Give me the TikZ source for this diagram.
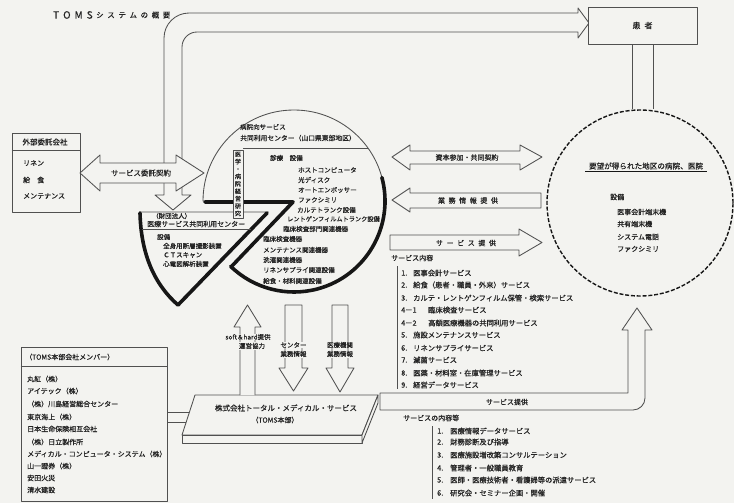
\documentclass[tikz,border=0pt]{standalone}
\usepackage{fontspec}
\newfontfamily\jp{Noto Sans CJK JP}[FakeBold=0.6]
\definecolor{bg}{RGB}{243,243,240}
\definecolor{lc}{RGB}{80,80,80}
\definecolor{tc}{RGB}{35,35,35}
\definecolor{bk}{RGB}{22,22,22}
\newcommand\jgap{\hspace{3.6pt}}
\begin{document}
\begin{tikzpicture}[x=1pt,y=-1pt,line join=round,
  ln/.style={draw=lc,line width=0.85pt},
  thk/.style={draw=bk,line width=3.6pt,line cap=round},
  tw/.style={font=\jp\fontsize{#1}{#1}\selectfont,text=tc,inner sep=0pt,anchor=west},
  tw/.default=7,
  tm/.style={font=\jp\fontsize{#1}{#1}\selectfont,text=tc,inner sep=0pt},
  tm/.default=7]
\fill[bg] (0,0) rectangle (734,503);
\useasboundingbox (0,0) rectangle (734,503);

% ---------- title ----------
\node[tw=10] (ttl) at (53,15) {T\hspace{4pt}O\hspace{4pt}M\hspace{4pt}S};
\node[tw=7.5] (ttl2) at (96,15) {シ\jgap ス\jgap テ\jgap ム\jgap の\jgap 概\jgap 要};

% ---------- bent arrow (centre -> patients) ----------
\draw[ln,fill=bg] (164,195) -- (164,38) arc[start angle=180,end angle=90,radius=25pt]
  -- (578,13) -- (578,8) -- (589,23) -- (578,38) -- (578,32) -- (197,32)
  arc[start angle=90,end angle=180,radius=15pt] -- (182,195) -- (191,195)
  -- (173,210) -- (155,195) -- cycle;

% ---------- outsourcing company ----------
\node[draw=lc,line width=0.85pt,fill=bg,minimum width=68pt,minimum height=79pt,inner sep=0] (gaibu) at (46,172.5) {};
\draw[ln] (gaibu.west |- 0,150) -- (gaibu.east |- 0,150);
\node[tm=7.5] (gaibuT) at (45,142) {外部委託会社};
\node[tw=7] (g1) at (23,163) {リネン};
\node[tw=7] (g2) at (23,180) {給　食};
\node[tw=7] (g3) at (23,196) {メンテナンス};

\draw[ln,fill=bg] (80,173) -- (100,155) -- (100,163) -- (176,163) -- (176,155) -- (204,173)
  -- (176,191) -- (176,183) -- (100,183) -- (100,191) -- cycle;
\node[tm=7.5] (itaku) at (141,173) {サービス委託契約};

% ---------- central circle ----------
\draw[ln,fill=bg] (203,201) arc[start angle=180,end angle=-134,radius=91pt] -- (294,201) -- cycle;
\draw[thk] (381.9,177.45) arc[start angle=15,end angle=-134,radius=91pt];
\draw[thk] (205,202) -- (293,202) -- (231,267);
\draw[ln] (243,148) -- (368,148);

\node[tw=6.5] (c1) at (240,127) {病院向サービス};
\node[tw=6.8] (c2) at (240,138) {共同利用センター（山口県東部地区）};
\node[tw=6.5] (c3) at (270,158) {診療　設備};
\node[tw=6.5] (c4) at (298,170) {ホストコンピュータ};
\node[tw=6.5] (c5) at (298,180) {光ディスク};
\node[tw=6.5] (c6) at (298,190) {オートエンボッサー};
\node[tw=6.5] (c7) at (298,200) {ファクシミリ};
\node[tw=6.5] (c8) at (297,210) {カルテトランク設備};
\node[tw=6.2] (c9) at (287,219) {レントゲンフィルムトランク設備};
\node[tw=6.5] (c10) at (283,229) {臨床検査部門関連機器};
\node[tw=6.5] (c11) at (263,239) {臨床検査機器};
\node[tw=6.5] (c12) at (263,250) {メンテナンス関連機器};
\node[tw=6.5] (c13) at (263,260) {洗濯関連機器};
\node[tw=6.5] (c14) at (263,270) {リネンサプライ関連設備};
\node[tw=6.5] (c15) at (263,281) {給食・材料関連設備};

% ---------- wedge : joint-use centre ----------
\draw[ln,fill=bg] (140,212) -- (268,212) -- (178,305) .. controls (155,285) and (141,255) .. (140,212) -- cycle;
\draw[thk] (140,213) .. controls (141,255) and (155,285) .. (178,305) -- (267,213);
\draw[ln] (142,229) -- (251,229);
\node[tw=6.5] (w1) at (152,216) {（財団法人）};
\node[tw=7] (w2) at (147,224) {医療サービス共同利用センター};
\node[tw=6.5] (w3) at (157,237) {設備};
\node[tw=6.5] (w4) at (163,246) {全身用断層撮影装置};
\node[tw=6.5] (w5) at (163,255) {ＣＴスキャン};
\node[tw=6.5] (w6) at (163,264) {心電図解析装置};

% vertical label box
\node[draw=lc,line width=0.85pt,fill=bg,minimum width=10pt,minimum height=68pt,inner sep=0] (vbox) at (238,184) {};
\node[font=\jp\fontsize{6}{7.4}\selectfont,text=tc,inner sep=0pt,align=center] (vtxt) at (vbox) {医\\学\\・\\病\\院\\経\\営\\研\\究};

% ---------- patients ----------
\node[draw=lc,line width=0.85pt,fill=bg,minimum width=109pt,minimum height=37pt,inner sep=0,
  font=\jp\fontsize{8}{8}\selectfont,text=tc] (kanja) at (642.5,25.5) {患\hspace{4pt}者};

% ---------- hospitals (dashed circle) ----------
\node[circle,draw=bk,line width=1.4pt,dash pattern=on 4pt off 1.8pt,minimum size=186pt,inner sep=0] (hosp) at (640,203) {};
\draw[ln] ([xshift=-10.5pt]kanja.south) -- ([xshift=-8pt]hosp.north);
\draw[ln] ([xshift=10.5pt]kanja.south) -- ([xshift=13pt]hosp.north);
\node[tm=7.6] (h0) at (646,166) {要望が得られた地区の病院、医院};
\draw[draw=bk,line width=1pt] (585,171) -- (707,171);
\node[tw=7] (h1) at (610,197) {設備};
\node[tw=7] (h2) at (617,212) {医事会計端末機};
\node[tw=7] (h3) at (617,224) {共有端末機};
\node[tw=7] (h4) at (617,237) {システム電話};
\node[tw=7] (h5) at (617,249) {ファクシミリ};

% ---------- arrows between centre and hospitals ----------
\draw[ln,fill=bg] (392,157) -- (410,145) -- (410,151) -- (520,151) -- (520,145) -- (542,157)
  -- (520,170) -- (520,164) -- (410,164) -- (410,170) -- cycle;
\node[tm=7] (a1) at (467,157.5) {資本参加・共同契約};
\draw[ln,fill=bg] (392,200) -- (410,188) -- (410,193) -- (541,193) -- (541,208) -- (410,208) -- (410,212) -- cycle;
\node[tm=7] (a2) at (468,200.5) {業\jgap 務\jgap 情\jgap 報\jgap 提\jgap 供};
\draw[ln,fill=bg] (390,235) -- (519,235) -- (519,229) -- (542,242.5) -- (519,256) -- (519,250) -- (390,250) -- cycle;
\node[tm=7] (a3) at (466,243) {サ\jgap ー\jgap ビ\jgap ス\jgap 提\jgap 供};

% ---------- service list 1 ----------
\node[tw=7] (s0) at (391,258) {サービス内容};
\draw[ln] (397,266) -- (397,389);
\node[tw=7.3] (n1) at (401,273) {1.};   \node[tw=7.3] (s1) at (413,273) {医事会計サービス};
\node[tw=7.3] (n2) at (401,285) {2.};   \node[tw=7.3] (s2) at (413,285) {給食（患者・職員・外来）サービス};
\node[tw=7.3] (n3) at (401,298) {3.};   \node[tw=7.3] (s3) at (413,298) {カルテ・レントゲンフィルム保管・検索サービス};
\node[tw=7.3] (n4) at (401,310) {4－1};  \node[tw=7.3] (s4) at (428,310) {臨床検査サービス};
\node[tw=7.3] (n5) at (401,323) {4－2};  \node[tw=7.3] (s5) at (428,323) {高額医療機器の共同利用サービス};
\node[tw=7.3] (n6) at (401,335) {5.};   \node[tw=7.3] (s6) at (413,335) {施設メンテナンスサービス};
\node[tw=7.3] (n7) at (401,348) {6.};   \node[tw=7.3] (s7) at (413,348) {リネンサプライサービス};
\node[tw=7.3] (n8) at (401,360) {7.};   \node[tw=7.3] (s8) at (413,360) {滅菌サービス};
\node[tw=7.3] (n9) at (401,373) {8.};   \node[tw=7.3] (s9) at (413,373) {医薬・材料室・在庫管理サービス};
\node[tw=7.3] (n10) at (401,385) {9.};  \node[tw=7.3] (s10) at (413,385) {経営データサービス};

% ---------- TOMS headquarters ----------
\draw[ln,fill=bg] (195,395) -- (378,395) -- (362,435) -- (182,435) -- cycle;
\draw[ln,fill=bg] (182,435) -- (362,435) -- (362,443) -- (182,443) -- cycle;
\draw[ln,fill=bg] (378,395) -- (378,403) -- (362,443) -- (362,435) -- cycle;
\node[tm=7.5] (toms) at (286,408) {株式会社トータル・メディカル・サービス};
\node[tm=7] (toms2) at (275,420) {（TOMS本部）};

% service band to hospitals
\draw[ln,fill=bg] (380,393) -- (628,393) -- (628,330) -- (622,330) -- (637,308) -- (652,330)
  -- (645,330) -- (645,398) arc[start angle=0,end angle=-90,radius=12pt] -- (380,410) -- cycle;
\node[tm=7] (band) at (507,402) {サービス提供};

% ---------- vertical arrows ----------
\draw[ln,fill=bg] (240,395) -- (240,327) -- (234,327) -- (247.5,305) -- (261,327) -- (255,327) -- (255,395);
\node[tm=6.5,fill=bg,inner sep=0.5pt] (v1a) at (248,337) {soft＆hard提供};
\node[tm=6.5,fill=bg,inner sep=0.5pt] (v1b) at (252,346) {運営協力};
\draw[ln,fill=bg] (285,305) -- (302,305) -- (302,368) -- (308,368) -- (293.5,391) -- (279,368) -- (285,368) -- cycle;
\node[tm=6.5,fill=bg,inner sep=0.5pt] (v2a) at (293.5,345) {センター};
\node[tm=6.5,fill=bg,inner sep=0.5pt] (v2b) at (293.5,354) {業務情報};
\draw[ln,fill=bg] (332,305) -- (348,305) -- (348,368) -- (354,368) -- (340,392) -- (326,368) -- (332,368) -- cycle;
\node[tm=6.5,fill=bg,inner sep=0.5pt] (v3a) at (340,345) {医療機関};
\node[tm=6.5,fill=bg,inner sep=0.5pt] (v3b) at (340,354) {業務情報};

% ---------- member companies ----------
\node[draw=lc,line width=0.85pt,fill=bg,minimum width=146pt,minimum height=154pt,inner sep=0] (mem) at (94,424) {};
\draw[ln] (mem.west |- 0,366) -- (mem.east |- 0,366);
\node[tw=7] (m0) at (25,357) {（TOMS本部会社メンバー）};
\node[tw=7] (m1) at (27,379) {丸紅（株）};
\node[tw=7] (m2) at (27,391) {アイテック（株）};
\node[tw=7] (m3) at (27,404) {（株）川島経営総合センター};
\node[tw=7] (m4) at (27,417) {東京海上（株）};
\node[tw=7] (m5) at (27,429) {日本生命保険相互会社};
\node[tw=7] (m6) at (27,442) {（株）日立製作所};
\node[tw=7] (m7) at (27,454) {メディカル・コンピュータ・システム（株）};
\node[tw=7] (m8) at (27,466) {山一證券（株）};
\node[tw=7] (m9) at (27,478) {安田火災};
\node[tw=7] (m10) at (27,490) {清水建設};
\coordinate (tl1) at (189,412);
\coordinate (tl2) at (185.5,422);
\draw[ln] (mem.east |- tl1) -- (tl1);
\draw[ln] (mem.east |- tl2) -- (tl2);

% ---------- service list 2 ----------
\node[tw=7] (t0) at (403,418) {サービスの内容等};
\draw[ln] (432,426) -- (432,499);
\node[tw=7.3] (p1) at (437,431) {1.}; \node[tw=7.3] (q1) at (450,431) {医療情報データサービス};
\node[tw=7.3] (p2) at (437,442) {2.}; \node[tw=7.3] (q2) at (450,442) {財務診断及び指導};
\node[tw=7.3] (p3) at (437,455) {3.}; \node[tw=7.3] (q3) at (450,455) {医療施設増改築コンサルテーション};
\node[tw=7.3] (p4) at (437,468) {4.}; \node[tw=7.3] (q4) at (450,468) {管理者・一般職員教育};
\node[tw=7.3] (p5) at (437,480) {5.}; \node[tw=7.3] (q5) at (450,480) {医師・医療技術者・看護婦等の派遣サービス};
\node[tw=7.3] (p6) at (437,493) {6.}; \node[tw=7.3] (q6) at (450,493) {研究会・セミナー企画・開催};
\end{tikzpicture}
\end{document}
